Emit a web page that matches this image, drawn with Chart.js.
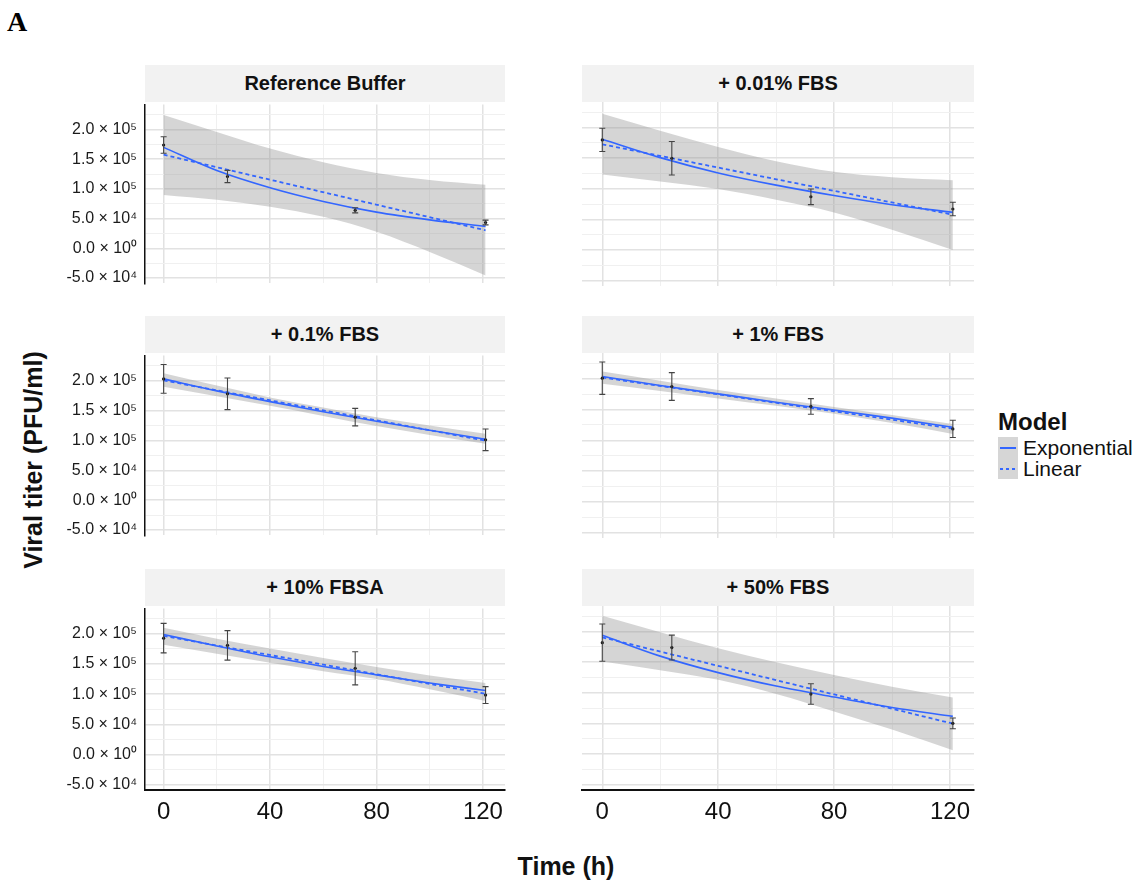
<!DOCTYPE html>
<html>
<head>
<meta charset="utf-8">
<script src="https://cdn.jsdelivr.net/npm/chart.js@4.4.1/dist/chart.umd.min.js"></script>
<style>
  body { margin: 0; background: #fff; font-family: 'Liberation Sans', Arial, Helvetica, sans-serif; }
  #page { position: relative; width: 1141px; height: 882px; overflow: hidden; background: #fff; }
  .strip { position: absolute; height: 37px; line-height: 37px; background: #f2f2f2; color: #111;
           font-weight: bold; font-size: 20px; text-align: center; white-space: nowrap; }
  .panel { position: absolute; }
  #tag { position: absolute; left: 7px; top: 8px; font: bold 28px 'Liberation Serif', 'Times New Roman', serif; line-height: 28px; }
  #ylab { position: absolute; left: 33px; top: 460px; transform: translate(-50%, -50%) rotate(-90deg);
          font-weight: bold; font-size: 25px; white-space: nowrap; color: #111; }
  #xlab { position: absolute; left: 566px; top: 854px; transform: translateX(-50%);
          font-weight: bold; font-size: 25px; line-height: 25px; white-space: nowrap; color: #111; }
  #legend { position: absolute; left: 998px; top: 410px; color: #111; }
  #legend .ltitle { font-weight: bold; font-size: 24px; line-height: 24px; margin-bottom: 3px; }
  #legend .lrow { height: 21px; line-height: 21px; font-size: 21px; white-space: nowrap; }
  #legend .key { display: inline-block; position: relative; width: 20px; height: 21px; background: #d6d6d6;
                 vertical-align: top; margin-right: 5px; }
  #legend .key span { position: absolute; left: 2px; width: 16px; top: 10px; height: 2px; }
  #legend .solid { background: #3366ff; }
  #legend .dash { background: repeating-linear-gradient(90deg, #3366ff 0 3px, transparent 3px 6px); }
</style>
</head>
<body>
<div id="page">
  <div id="tag">A</div>
  <div id="ylab">Viral titer (PFU/ml)</div>
  <div id="xlab">Time (h)</div>
  <div id="legend">
    <div class="ltitle">Model</div>
    <div class="lrow"><span class="key"><span class="solid"></span></span>Exponential</div>
    <div class="lrow"><span class="key"><span class="dash"></span></span>Linear</div>
  </div>
</div>
<script>
// Panels (facets), in reading order
const panelNames = ['Reference Buffer', '+ 0.01% FBS', '+ 0.1% FBS', '+ 1% FBS', '+ 10% FBSA', '+ 50% FBS'];

// Observed titers (mean ± sd) at each sampling time
const obsTime = [0, 24, 72, 121];
const titerMean = [
  [174000, 121000, 64000, 43500],
  [180000, 150000, 87000, 67000],
  [203000, 178000, 139000, 101000],
  [201000, 187500, 155000, 118500],
  [193000, 181000, 143000, 98500],
  [182000, 174000, 98000, 50000]
];
const titerSd = [
  [14000, 10300, 4300, 4000],
  [19000, 27500, 12800, 11000],
  [24000, 26500, 14700, 18000],
  [26300, 22600, 12700, 14000],
  [24500, 24500, 27500, 14000],
  [30500, 20300, 16800, 8700]
];

// Exponential fit and its confidence band, read at these times
const fitTime = [0, 20, 40, 60, 80, 100, 121];
const expFit = [
  [170000, 131000, 102000, 79000, 61000, 48000, 37000],
  [181000, 151000, 126000, 106000, 89000, 74000, 61500],
  [203000, 183000, 165000, 148000, 132000, 117000, 102000],
  [203800, 189000, 175500, 162000, 149000, 136000, 121200],
  [199000, 180000, 162000, 146000, 132000, 118500, 106000],
  [194000, 160000, 133000, 111000, 93000, 76000, 61500]
];
const bandUpper = [
  [224500, 196000, 168000, 145000, 127000, 115000, 107000],
  [222800, 195000, 168500, 145000, 127700, 119000, 114100],
  [212500, 192000, 172000, 155000, 139000, 125000, 111000],
  [212000, 197000, 182000, 168000, 154000, 141000, 126600],
  [210300, 192000, 176000, 160000, 145000, 131000, 118500],
  [226000, 199000, 172800, 150000, 129300, 110000, 92400]
];
const bandLower = [
  [90000, 82000, 70000, 53000, 28000, -6000, -45500],
  [123400, 112000, 99500, 82000, 61400, 33000, 0],
  [190000, 174000, 158000, 141000, 124000, 109000, 94500],
  [191800, 180000, 168000, 156000, 143000, 128000, 110300],
  [182100, 167000, 152000, 138000, 125000, 108000, 88600],
  [151100, 137000, 121200, 98000, 69600, 40000, 6000]
];

// Linear fit, end points
const linTime = [0, 121];
const linFit = [
  [157600, 30400],
  [172800, 57600],
  [200500, 99500],
  [202200, 119000],
  [196700, 100500],
  [190800, 49500]
];

// Axes
const xGrid = [0, 20, 40, 60, 80, 100, 120];
const xLabels = ['0', '', '40', '', '80', '', '120'];
const yGrid = [-50000, -25000, 0, 25000, 50000, 75000, 100000, 125000, 150000, 175000, 200000, 225000];
const yLabelValues = [-50000, 0, 50000, 100000, 150000, 200000];
const yLabelText = ['-5.0 × 10⁴', '0.0 × 10⁰', '5.0 × 10⁴', '1.0 × 10⁵', '1.5 × 10⁵', '2.0 × 10⁵'];

// Layout of the facet grid
const cols = [{ left: 145, right: 505 }, { left: 582, right: 974 }];
const rows = [{ top: 102, bottom: 286 }, { top: 353, bottom: 538 }, { top: 606, bottom: 790 }];

const blue = '#3366ff';
Chart.defaults.font.family = "'Liberation Sans', Arial, Helvetica, sans-serif";
Chart.defaults.color = '#1a1a1a';

const pts = (xs, ys) => xs.map((x, i) => ({ x: x, y: ys[i] }));

// error bars drawn through the chart's own scales
const errorBars = {
  id: 'errorBars',
  afterDatasetsDraw(chart, args, opts) {
    const { ctx } = chart;
    const xs = chart.scales.x, ys = chart.scales.y;
    const p = opts.panel;
    ctx.save();
    ctx.strokeStyle = '#444';
    ctx.lineWidth = 1.1;
    obsTime.forEach((t, i) => {
      const px = xs.getPixelForValue(t);
      const top = ys.getPixelForValue(titerMean[p][i] + titerSd[p][i]);
      const bot = ys.getPixelForValue(titerMean[p][i] - titerSd[p][i]);
      ctx.beginPath();
      ctx.moveTo(px, top); ctx.lineTo(px, bot);
      ctx.moveTo(px - 3, top); ctx.lineTo(px + 3, top);
      ctx.moveTo(px - 3, bot); ctx.lineTo(px + 3, bot);
      ctx.stroke();
    });
    ctx.restore();
  }
};

const page = document.getElementById('page');

panelNames.forEach((name, p) => {
  const col = cols[p % 2];
  const row = rows[Math.floor(p / 2)];
  const isLeft = p % 2 === 0;
  const isBottom = Math.floor(p / 2) === rows.length - 1;

  // facet strip
  const strip = document.createElement('div');
  strip.className = 'strip';
  strip.style.left = col.left + 'px';
  strip.style.width = (col.right - col.left) + 'px';
  strip.style.top = (row.top - 37) + 'px';
  strip.textContent = name;
  page.appendChild(strip);

  const canvasLeft = isLeft ? 30 : col.left - 15;
  const canvasTop = row.top - 15;
  const w = col.right + 15 - canvasLeft;
  const h = (row.bottom - row.top) + 15 + (isBottom ? 45 : 15);

  const canvas = document.createElement('canvas');
  canvas.className = 'panel';
  canvas.width = w;
  canvas.height = h;
  canvas.style.left = canvasLeft + 'px';
  canvas.style.top = canvasTop + 'px';
  canvas.style.width = w + 'px';
  canvas.style.height = h + 'px';
  page.appendChild(canvas);

  new Chart(canvas, {
    type: 'line',
    data: {
      datasets: [
        {
          label: 'band',
          data: pts(fitTime, bandUpper[p]),
          fill: '+1',
          backgroundColor: 'rgba(150,150,150,0.4)',
          borderWidth: 0,
          pointRadius: 0,
          cubicInterpolationMode: 'monotone',
          order: 3
        },
        {
          label: 'band lower',
          data: pts(fitTime, bandLower[p]),
          fill: false,
          borderWidth: 0,
          pointRadius: 0,
          cubicInterpolationMode: 'monotone',
          order: 3
        },
        {
          label: 'Exponential',
          data: pts(fitTime, expFit[p]),
          borderColor: blue,
          borderWidth: 1.6,
          pointRadius: 0,
          fill: false,
          cubicInterpolationMode: 'monotone',
          order: 1
        },
        {
          label: 'Linear',
          data: pts(linTime, linFit[p]),
          borderColor: blue,
          borderWidth: 1.8,
          borderDash: [4, 3],
          pointRadius: 0,
          fill: false,
          order: 1
        },
        {
          label: 'Observed',
          data: pts(obsTime, titerMean[p]),
          showLine: false,
          pointRadius: 1.6,
          pointBackgroundColor: '#111',
          pointBorderWidth: 0,
          order: 0
        }
      ]
    },
    options: {
      responsive: false,
      animation: false,
      devicePixelRatio: 1,
      layout: { padding: { left: isLeft ? 0 : 15, right: 15, top: 15, bottom: isBottom ? 0 : 15 } },
      plugins: {
        legend: { display: false },
        tooltip: { enabled: false },
        errorBars: { panel: p }
      },
      scales: {
        x: {
          type: 'linear',
          min: -7,
          max: 128.3,
          afterBuildTicks: (scale) => { scale.ticks = xGrid.map(v => ({ value: v })); },
          afterFit: (scale) => { scale.height = isBottom ? 45 : 0; },
          ticks: {
            display: isBottom,
            autoSkip: false,
            maxRotation: 0,
            padding: 8,
            font: { size: 24 },
            color: '#111',
            callback: (v) => { const i = xGrid.indexOf(v); return i >= 0 ? xLabels[i] : ''; }
          },
          grid: {
            drawTicks: false,
            color: (c) => (c.tick && c.tick.value % 40 === 0) ? '#e2e2e2' : '#f0f0f0',
            lineWidth: (c) => (c.tick && c.tick.value % 40 === 0) ? 1.5 : 1
          },
          border: { display: isBottom, color: '#111', width: 2 }
        },
        y: {
          type: 'linear',
          min: -59000,
          max: 242000,
          afterBuildTicks: (scale) => { scale.ticks = yGrid.map(v => ({ value: v })); },
          afterFit: (scale) => { scale.width = isLeft ? col.left - canvasLeft : 0; },
          ticks: {
            display: isLeft,
            autoSkip: false,
            padding: 8,
            font: { size: 16 },
            color: '#1a1a1a',
            callback: (v) => { const i = yLabelValues.indexOf(v); return i >= 0 ? yLabelText[i] : ''; }
          },
          grid: {
            drawTicks: false,
            color: (c) => (c.tick && c.tick.value % 50000 === 0) ? '#e2e2e2' : '#f0f0f0',
            lineWidth: (c) => (c.tick && c.tick.value % 50000 === 0) ? 1.5 : 1
          },
          border: { display: isLeft, color: '#111', width: 1.5 }
        }
      }
    },
    plugins: [errorBars]
  });
});
</script>
</body>
</html>
